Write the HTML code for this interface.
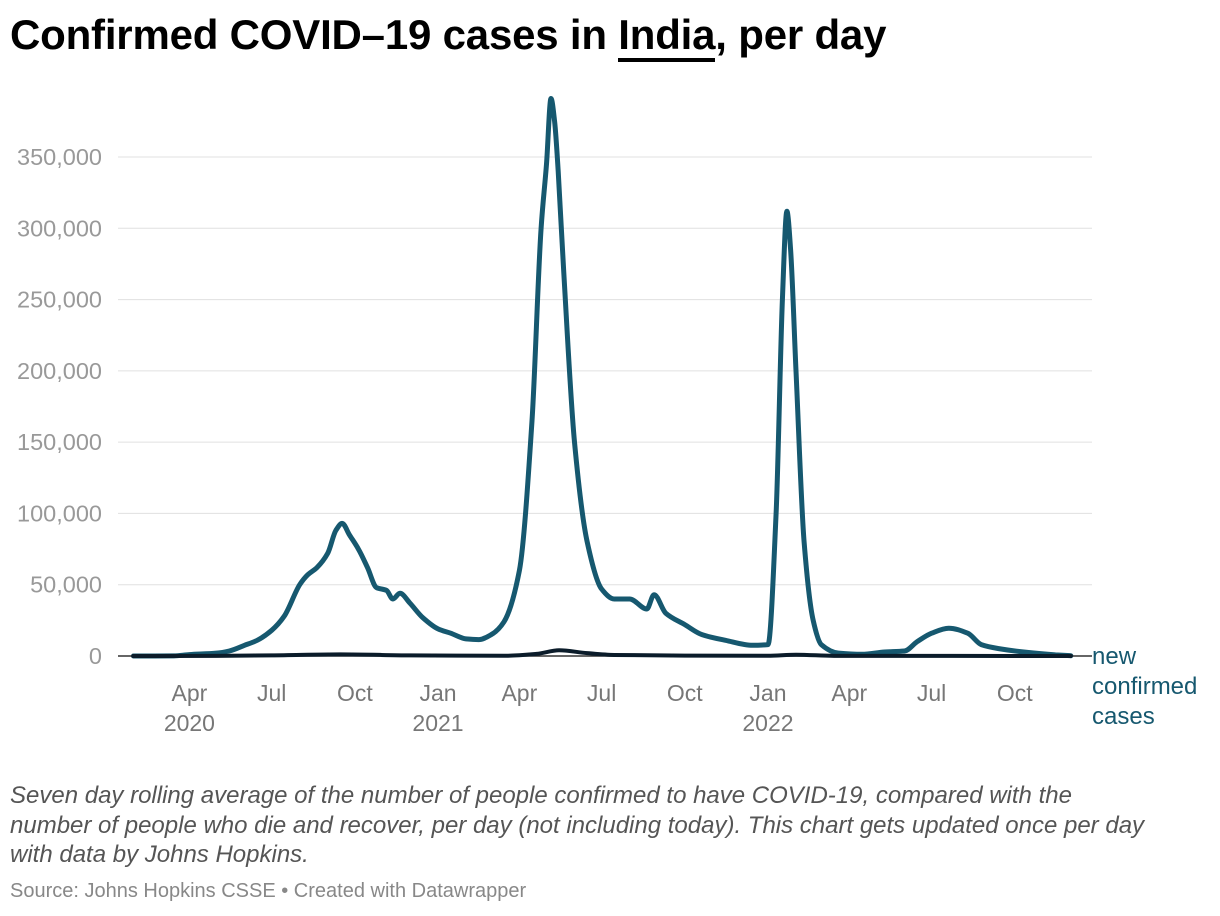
<!DOCTYPE html>
<html><head><meta charset="utf-8"><style>
body{margin:0;background:#fff;font-family:"Liberation Sans",sans-serif;}
#wrap{position:relative;width:1220px;height:916px;overflow:hidden;}
h1{position:absolute;left:10px;top:11px;margin:0;font-size:42px;font-weight:bold;color:#000;letter-spacing:-0.2px;}
h1 u{text-decoration:none;border-bottom:4px solid #000;}
.desc{position:absolute;left:10px;top:781px;width:1135px;font-size:24px;font-style:italic;color:#555;line-height:29.5px;}
.src{position:absolute;left:10px;top:880px;font-size:20px;color:#888;}
</style></head><body><div id="wrap">
<h1>Confirmed COVID–19 cases in <u>India</u>, per day</h1>
<svg id="chart" width="1220" height="916" style="position:absolute;left:0;top:0"></svg>
<div class="desc">Seven day rolling average of the number of people confirmed to have COVID-19, compared with the number of people who die and recover, per day (not including today). This chart gets updated once per day with data by Johns Hopkins.</div>
<div class="src">Source: Johns Hopkins CSSE • Created with Datawrapper</div>
</div>
<script>
const caseDates=["2020-01-30","2020-03-15","2020-04-01","2020-05-01","2020-05-15","2020-06-01","2020-06-15","2020-07-01","2020-07-15","2020-08-01","2020-08-10","2020-08-20","2020-09-01","2020-09-10","2020-09-17","2020-09-25","2020-10-05","2020-10-15","2020-10-25","2020-11-05","2020-11-12","2020-11-20","2020-12-01","2020-12-15","2021-01-01","2021-01-15","2021-02-01","2021-02-15","2021-03-01","2021-03-15","2021-04-01","2021-04-15","2021-04-25","2021-05-01","2021-05-06","2021-05-10","2021-05-14","2021-05-20","2021-06-01","2021-06-15","2021-07-01","2021-07-15","2021-08-01","2021-08-20","2021-08-28","2021-09-10","2021-10-01","2021-10-20","2021-11-15","2021-12-15","2022-01-01","2022-01-10","2022-01-17","2022-01-22","2022-01-26","2022-02-01","2022-02-10","2022-02-20","2022-03-01","2022-03-20","2022-04-15","2022-05-10","2022-06-01","2022-06-15","2022-07-01","2022-07-20","2022-08-10","2022-08-25","2022-09-15","2022-10-15","2022-11-15","2022-12-02"];
const caseValues=[0,100,1000,2000,3500,7500,11000,18000,28000,50000,57000,62000,72000,88000,93000,85000,75000,62000,48000,46000,40000,44000,37000,27000,19000,16000,12000,11500,15000,24000,60000,165000,300000,345000,391000,375000,340000,270000,150000,80000,47000,40000,40000,33000,43000,30000,22000,15000,11000,7500,8000,100000,250000,312000,285000,200000,80000,25000,8000,2000,1200,2800,3500,10000,16000,19500,16000,8000,5000,2500,800,200];
const deathDates=["2020-01-30","2020-05-01","2020-07-01","2020-09-15","2020-12-01","2021-03-15","2021-04-20","2021-05-15","2021-06-15","2021-07-15","2021-10-01","2022-01-01","2022-02-01","2022-03-15","2022-12-02"];
const deathValues=[0,80,400,1150,450,150,1500,4000,2000,700,250,200,900,100,10];
const yTicks=[0,50000,100000,150000,200000,250000,300000,350000];
const xTicks=[["2020-04-01","Apr","2020"],["2020-07-01","Jul",""],["2020-10-01","Oct",""],["2021-01-01","Jan","2021"],["2021-04-01","Apr",""],["2021-07-01","Jul",""],["2021-10-01","Oct",""],["2022-01-01","Jan","2022"],["2022-04-01","Apr",""],["2022-07-01","Jul",""],["2022-10-01","Oct",""]];
const NS="http://www.w3.org/2000/svg",svg=document.getElementById('chart');
const t0=Date.UTC(2021,0,1);
function xs(d){const p=d.split('-');return 438+(Date.UTC(+p[0],p[1]-1,+p[2])-t0)/864e5*0.904;}
function ys(v){return 656-v*(499/350000);}
function el(n,a){const e=document.createElementNS(NS,n);for(const k in a)e.setAttribute(k,a[k]);svg.appendChild(e);return e;}
yTicks.forEach(v=>{
 const l=el('line',{x1:118,x2:1092,y1:ys(v),y2:ys(v),stroke:'#e0e0e0','stroke-width':1});
 
 
 const t=el('text',{x:102,y:ys(v)+8,'text-anchor':'end','font-size':23.5,fill:'#999','font-family':'Liberation Sans'});
 t.textContent=v.toLocaleString('en-US');
 
 
});
xTicks.forEach(k=>{
 const x=xs(k[0]);
 const t=el('text',{x:x,y:701,'text-anchor':'middle','font-size':23,fill:'#777','font-family':'Liberation Sans'});
 t.textContent=k[1];
 
 
 if(k[2]){const y=el('text',{x:x,y:731,'text-anchor':'middle','font-size':23,fill:'#777','font-family':'Liberation Sans'});
 y.textContent=k[2];
 
 }
});
function monoPath(px,py){
 const n=px.length,d=[],m=[];
 for(let i=0;i<n-1;i++)d.push((py[i+1]-py[i])/(px[i+1]-px[i]));
 m[0]=d[0];m[n-1]=d[n-2];
 for(let i=1;i<n-1;i++)m[i]=(d[i-1]*d[i]<=0)?0:2/(1/d[i-1]+1/d[i]);
 let s='M'+px[0].toFixed(1)+','+py[0].toFixed(1);
 for(let i=0;i<n-1;i++){const h=(px[i+1]-px[i])/3;
  s+='C'+(px[i]+h).toFixed(1)+','+(py[i]+m[i]*h).toFixed(1)+' '+(px[i+1]-h).toFixed(1)+','+(py[i+1]-m[i+1]*h).toFixed(1)+' '+px[i+1].toFixed(1)+','+py[i+1].toFixed(1);}
 return s;
}
function line(d,v,c,w,name){
 const p=el('path',{d:monoPath(d.map(xs),v.map(ys)),fill:'none',stroke:c,'stroke-width':w,'stroke-linejoin':'round','stroke-linecap':'round'});
 
 
}
line(caseDates,caseValues,'#16586f',5,'cases-line');
const ax=el('line',{x1:118,x2:1092,y1:656,y2:656,stroke:'#333','stroke-width':1.5});


line(deathDates,deathValues,'#0b1c2a',4,'deaths-line');
['new','confirmed','cases'].forEach((s,i)=>{
 const t=el('text',{x:1092,y:664+i*30,'font-size':24,fill:'#16586f','font-family':'Liberation Sans'});
 t.textContent=s;
 
 
});
</script></body></html>
